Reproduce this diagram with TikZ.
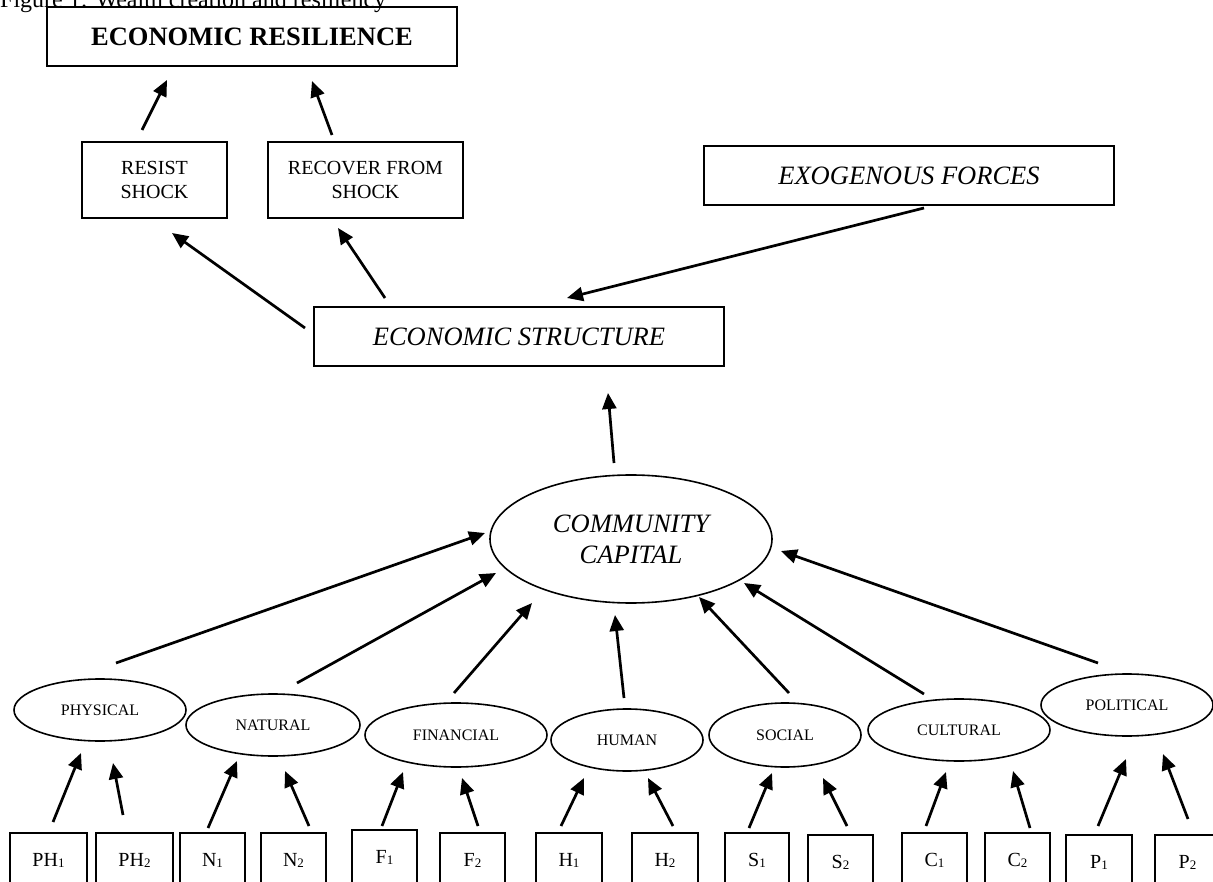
\documentclass[tikz,border=0pt]{standalone}
\usepackage{fontspec}
\setmainfont{Liberation Serif}
\usetikzlibrary{arrows.meta,shapes.geometric}
\newcommand\sbs[1]{\raisebox{-1pt}{\fontsize{13}{13}\selectfont #1}}
\begin{document}
\begin{tikzpicture}[x=1pt,y=-1pt,
 box/.style={draw, line width=1.6pt, inner sep=0pt, align=center},
 oval/.style={draw, ellipse, line width=1.6pt, inner sep=0pt, align=center},
 arr/.style={line width=2.7pt, -{Triangle[length=16pt,width=14pt]}},
 small/.style={font=\fontsize{16}{18}\selectfont},
 mid/.style={font=\fontsize{20}{24}\selectfont},
 ital/.style={font=\fontsize{26.5}{31}\selectfont\itshape},
 leaf/.style={box, minimum width=65pt, minimum height=54pt, mid},
 ]
\useasboundingbox (0,0) rectangle (1213,882);
\clip (0,0) rectangle (1213,882);

\node[anchor=base west, inner sep=0pt, font=\fontsize{24}{28}\selectfont] (cap) at (0,8) {Figure 1: Wealth creation and resiliency};
\node[box, minimum width=410pt, minimum height=59pt, font=\fontsize{26.5}{30}\selectfont\bfseries] (er) at (252,36.5) {ECONOMIC RESILIENCE};
\node[box, minimum width=145pt, minimum height=76pt, mid] (resist) at (154.5,180) {RESIST\\SHOCK};
\node[box, minimum width=195pt, minimum height=76pt, mid] (recover) at (365.5,180) {RECOVER FROM\\SHOCK};
\node[box, minimum width=410pt, minimum height=59pt, ital] (exo) at (909,175.5) {EXOGENOUS FORCES};
\node[box, minimum width=410pt, minimum height=59pt, ital] (es) at (519,336.5) {ECONOMIC STRUCTURE};
\node[oval, minimum width=282pt, minimum height=128pt, ital] (cc) at (631,539) {COMMUNITY\\CAPITAL};

\node[oval, minimum width=172pt, minimum height=62pt, small] (phys) at (100,710) {PHYSICAL};
\node[oval, minimum width=174pt, minimum height=62pt, small] (nat) at (273,725) {NATURAL};
\node[oval, minimum width=182pt, minimum height=64pt, small] (fin) at (456,735) {FINANCIAL};
\node[oval, minimum width=152pt, minimum height=62pt, small] (hum) at (627,740) {HUMAN};
\node[oval, minimum width=152pt, minimum height=64pt, small] (soc) at (785,735) {SOCIAL};
\node[oval, minimum width=182pt, minimum height=62pt, small] (cul) at (959,730) {CULTURAL};
\node[oval, minimum width=172pt, minimum height=62pt, small] (pol) at (1127,705) {POLITICAL};

\node[leaf, minimum width=77pt] (ph1) at (48.5,860) {PH\sbs{1}};
\node[leaf, minimum width=77pt] (ph2) at (134.5,860) {PH\sbs{2}};
\node[leaf] (n1) at (212.5,860) {N\sbs{1}};
\node[leaf] (n2) at (293.5,860) {N\sbs{2}};
\node[leaf] (f1) at (384.5,857) {F\sbs{1}};
\node[leaf] (f2) at (472.5,860) {F\sbs{2}};
\node[leaf, minimum width=66pt] (h1) at (569,860) {H\sbs{1}};
\node[leaf, minimum width=66pt] (h2) at (665,860) {H\sbs{2}};
\node[leaf, minimum width=64pt] (s1) at (757,860) {S\sbs{1}};
\node[leaf] (s2) at (840.5,862) {S\sbs{2}};
\node[leaf] (c1) at (934.5,860) {C\sbs{1}};
\node[leaf] (c2) at (1017.5,860) {C\sbs{2}};
\node[leaf, minimum width=66pt] (p1) at (1099,862) {P\sbs{1}};
\node[leaf] (p2) at (1187.5,862) {P\sbs{2}};

% top arrows
\coordinate (a1t) at (142,130); \coordinate (a1h) at (167,80);
\coordinate (a2t) at (332,135); \coordinate (a2h) at (312,81);
\coordinate (a3t) at (305,328); \coordinate (a3h) at (172,233);
\coordinate (a4t) at (385,298); \coordinate (a4h) at (338,228);
\coordinate (a5t) at (924,208); \coordinate (a5h) at (567,298);
\coordinate (a6t) at (614,463); \coordinate (a6h) at (608,393);
\draw[arr] (a1t) -- (a1h);
\draw[arr] (a2t) -- (a2h);
\draw[arr] (a3t) -- (a3h);
\draw[arr] (a4t) -- (a4h);
\draw[arr] (a5t) -- (a5h);
\draw[arr] (a6t) -- (a6h);

% capitals to community capital
\coordinate (b1t) at (116,663); \coordinate (b1h) at (485,533);
\coordinate (b2t) at (297,683); \coordinate (b2h) at (496,573);
\coordinate (b3t) at (454,693); \coordinate (b3h) at (532,603);
\coordinate (b4t) at (624,698); \coordinate (b4h) at (615,615);
\coordinate (b5t) at (789,693); \coordinate (b5h) at (699,597);
\coordinate (b6t) at (924,694); \coordinate (b6h) at (744,583);
\coordinate (b7t) at (1098,663); \coordinate (b7h) at (781,551);
\foreach \i in {1,...,7} {\draw[arr] (b\i t) -- (b\i h);}

% indicators to capitals
\coordinate (c1t) at (53,822);   \coordinate (c1h) at (81,753);
\coordinate (c2t) at (123,815);  \coordinate (c2h) at (113,763);
\coordinate (c3t) at (208,828);  \coordinate (c3h) at (237,761);
\coordinate (c4t) at (309,826);  \coordinate (c4h) at (285,771);
\coordinate (c5t) at (382,826);  \coordinate (c5h) at (403,772);
\coordinate (c6t) at (478,826);  \coordinate (c6h) at (462,778);
\coordinate (c7t) at (561,826);  \coordinate (c7h) at (584,778);
\coordinate (c8t) at (673,826);  \coordinate (c8h) at (648,778);
\coordinate (c9t) at (749,828);  \coordinate (c9h) at (772,773);
\coordinate (c10t) at (847,826); \coordinate (c10h) at (823,778);
\coordinate (c11t) at (926,826); \coordinate (c11h) at (946,772);
\coordinate (c12t) at (1030,828);\coordinate (c12h) at (1013,771);
\coordinate (c13t) at (1098,826);\coordinate (c13h) at (1126,759);
\coordinate (c14t) at (1188,819);\coordinate (c14h) at (1163,754);
\foreach \i in {1,...,14} {\draw[arr] (c\i t) -- (c\i h);}
\end{tikzpicture}
\end{document}
